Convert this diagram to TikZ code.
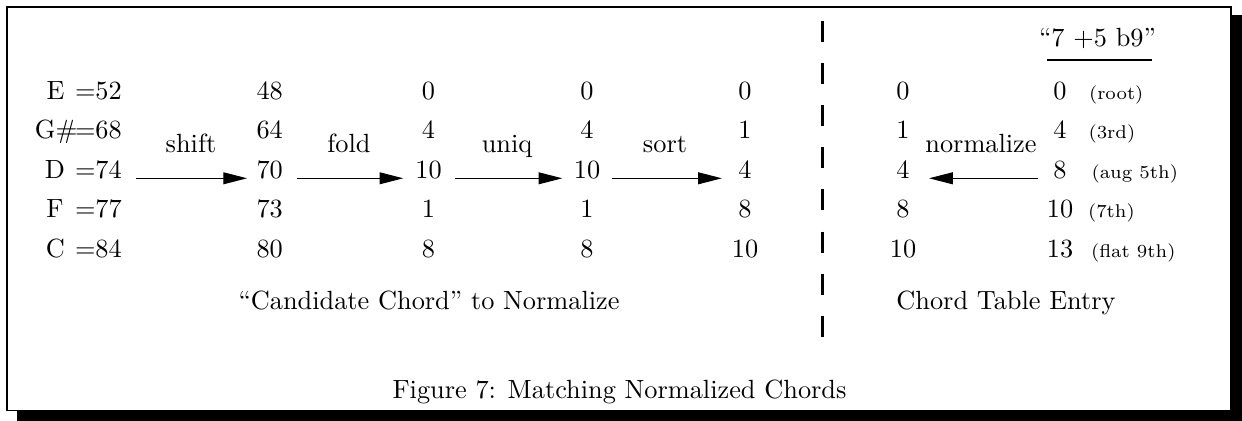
\documentclass[tikz,border=0pt]{standalone}
\usetikzlibrary{arrows.meta}
\begin{document}
\begin{tikzpicture}[x=0.38pt,y=-0.38pt,
    num/.style={anchor=base,inner sep=0pt},
    txt/.style={anchor=base,inner sep=0pt},
    note/.style={anchor=base west,inner sep=0pt,font=\scriptsize},
    arr/.style={-{Triangle[length=9pt,width=4.5pt]},line width=0.4pt}]
\useasboundingbox (0,0) rectangle (1242,421);
% shadowed frame
\fill[black] (17,15) rectangle (1242,421);
\draw[fill=white,line width=0.5pt] (7,7) rectangle (1231,410.5);

% row baselines
\def\ra{99.5}\def\rb{138.9}\def\rc{178.3}\def\rd{217.7}\def\re{257.1}

% input notes
\node[anchor=base west,inner sep=0pt] (a1) at (74.5,\ra) {$=$52};
\node[anchor=base west,inner sep=0pt] (a2) at (74.5,\rb) {$=$68};
\node[anchor=base west,inner sep=0pt] (a3) at (74.5,\rc) {$=$74};
\node[anchor=base west,inner sep=0pt] (a4) at (74.5,\rd) {$=$77};
\node[anchor=base west,inner sep=0pt] (a5) at (74.5,\re) {$=$84};
\node[anchor=base east,inner sep=0pt] (l1) at (65,\ra) {E};
\node[anchor=base east,inner sep=0pt] (l2) at (78,\rb) {G\#};
\node[anchor=base east,inner sep=0pt] (l3) at (65.5,\rc) {D};
\node[anchor=base east,inner sep=0pt] (l4) at (64,\rd) {F};
\node[anchor=base east,inner sep=0pt] (l5) at (65.5,\re) {C};

% shifted
\node[num] (b1) at (269.7,\ra) {48};
\node[num] (b2) at (269.7,\rb) {64};
\node[num] (b3) at (269.7,\rc) {70};
\node[num] (b4) at (269.7,\rd) {73};
\node[num] (b5) at (269.7,\re) {80};
% folded
\node[num] (c1) at (428.5,\ra) {0};
\node[num] (c2) at (428.5,\rb) {4};
\node[num] (c3) at (428.5,\rc) {10};
\node[num] (c4) at (428.5,\rd) {1};
\node[num] (c5) at (428.5,\re) {8};
% unique
\node[num] (d1) at (587,\ra) {0};
\node[num] (d2) at (587,\rb) {4};
\node[num] (d3) at (587,\rc) {10};
\node[num] (d4) at (587,\rd) {1};
\node[num] (d5) at (587,\re) {8};
% sorted
\node[num] (e1) at (745,\ra) {0};
\node[num] (e2) at (745,\rb) {1};
\node[num] (e3) at (745,\rc) {4};
\node[num] (e4) at (745,\rd) {8};
\node[num] (e5) at (745,\re) {10};

% table side: normalized
\node[num] (f1) at (903,\ra) {0};
\node[num] (f2) at (903,\rb) {1};
\node[num] (f3) at (903,\rc) {4};
\node[num] (f4) at (903,\rd) {8};
\node[num] (f5) at (903,\re) {10};
% table entry
\node[txt] (title) at (1097.5,46.7) {``7 +5 b9''};
\draw[line width=0.8pt] (1047,60) -- (1152,60);
\node[num] (g1) at (1060,\ra) {0};
\node[num] (g2) at (1060,\rb) {4};
\node[num] (g3) at (1060,\rc) {8};
\node[num] (g4) at (1060,\rd) {10};
\node[num] (g5) at (1060,\re) {13};
\node[note] (h1) at (1088.5,\ra) {(root)};
\node[note] (h2) at (1088,\rb) {(3rd)};
\node[note] (h3) at (1091,\rc) {(aug 5th)};
\node[note] (h4) at (1087.5,\rd) {(7th)};
\node[note] (h5) at (1090.5,\re) {(flat 9th)};

% operation labels
\node[txt] (ls) at (191,152.5) {shift};
\node[txt] (lf) at (349,152.5) {fold};
\node[txt] (lu) at (507,152.5) {uniq};
\node[txt] (lo) at (665,152.5) {sort};
\node[txt] (ln) at (981,152.5) {normalize};

% operation arrows
\draw[arr,shorten <=5.3pt,shorten >=3.4pt] (a3.base east) -- (b3.base west);
\draw[arr,shorten <=5.0pt,shorten >=4.4pt] (b3.base east) -- (c3.base west);
\draw[arr,shorten <=4.7pt,shorten >=4.2pt] (c3.base east) -- (d3.base west);
\draw[arr,shorten <=4.2pt,shorten >=6.1pt] (d3.base east) -- (e3.base west);
\draw[arr,shorten <=5.7pt,shorten >=7.2pt] (g3.base west) -- (f3.base east);

% divider
\draw[line width=1pt,dash pattern=on 8pt off 8pt] (822.7,21) -- (822.7,337);

% headings
\node[txt] (cand) at (429,310) {``Candidate Chord'' to Normalize};
\node[txt] (entry) at (1006,310) {Chord Table Entry};
\node[txt] (cap) at (619.5,398.3) {Figure 7: Matching Normalized Chords};
\end{tikzpicture}
\end{document}
